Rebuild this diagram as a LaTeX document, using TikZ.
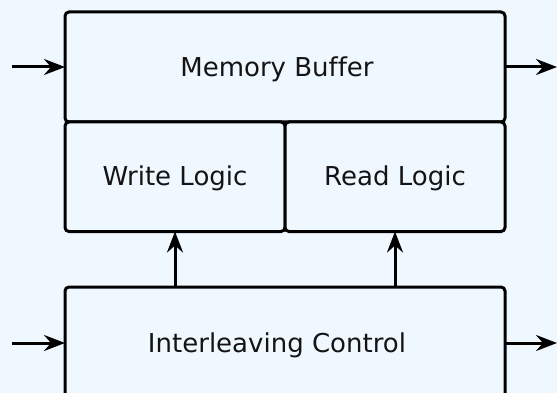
\documentclass[tikz,border=0pt]{standalone}
\usepackage{fontspec}
\setmainfont{DejaVu Sans}[Ligatures=NoCommon]
\usetikzlibrary{arrows.meta}
\definecolor{bg}{HTML}{F0F8FF}
\begin{document}
\begin{tikzpicture}[x=1pt,y=-1pt,
  blk/.style={draw=black, line width=3pt, rounded corners=4pt, fill=bg},
  lbl/.style={font=\fontsize{26}{30}\selectfont, text=black!92},
  arr/.style={line width=3pt, -{Stealth[length=21pt,width=16pt,inset=7pt]}}]
\fill[bg] (0,0) rectangle (557,393);
\useasboundingbox (0,0) rectangle (557,393);
\draw[blk] (65,12) rectangle (505,122);
\node[lbl] (mbt) at (277,69) {Memory Buffer};
\draw[blk] (65,122) rectangle (285,231.5);
\draw[blk] (285,122) rectangle (505,231.5);
\node[lbl] (wlt) at (175,178) {Write Logic};
\node[lbl] (rlt) at (395,178) {Read Logic};
\draw[blk] (65,287) rectangle (505,400);
\node[lbl] (ict) at (277,345) {Interleaving Control};
% named anchors
\coordinate (mbw) at (65,67);
\coordinate (mbe) at (505,67);
\coordinate (icw) at (65,343);
\coordinate (ice) at (505,343);
\coordinate (wls) at (175,231.5);
\coordinate (rls) at (395,231.5);
\coordinate (icn1) at (175,287);
\coordinate (icn2) at (395,287);
\coordinate (in1) at (12,67);
\coordinate (out1) at (557,67);
\coordinate (in2) at (12,343);
\coordinate (out2) at (557,343);
\draw[arr] (in1) -- (mbw);
\draw[arr] (mbe) -- (out1);
\draw[arr] (in2) -- (icw);
\draw[arr] (ice) -- (out2);
\draw[arr] (icn1) -- (wls);
\draw[arr] (icn2) -- (rls);
\end{tikzpicture}
\end{document}
